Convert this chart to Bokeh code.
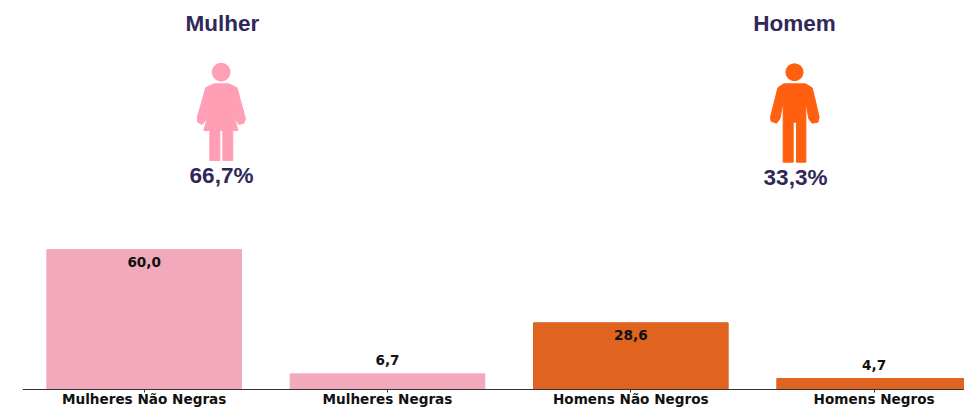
from bokeh.plotting import figure, ColumnDataSource
from bokeh.models import Range1d, FixedTicker
from bokeh.embed import file_html
from bokeh.resources import INLINE
from bokeh.core.properties import value

categories = ["Mulheres Não Negras", "Mulheres Negras", "Homens Não Negros", "Homens Negros"]
values = [60.0, 6.7, 28.6, 4.7]
bar_colors = ["#F2A9BC", "#F2A9BC", "#E06320", "#E06320"]
groups = ["Mulher", "Homem"]
shares = ["66,7%", "33,3%"]

WOMAN = [(190,250),(235,250),(260,262),(270,300),(285,355),(280,368),(265,372),(255,355),(248,335),(262,390),
         (247,390),(247,480),(217,480),(217,390),(208,390),(208,480),(178,480),(178,390),(160,390),(175,335),
         (168,355),(155,372),(142,365),(140,352),(155,300),(165,262)]
MAN = [(160,250),(225,250),(245,262),(252,290),(266,350),(262,365),(245,368),(235,355),(226,305),(226,485),
       (198,485),(198,365),(188,365),(188,485),(158,485),(158,305),(148,355),(138,368),(122,362),(120,350),
       (135,290),(142,262)]

STEP = 243.33
AXIS_X, AXIS_Y = 22, 389
PX_PER_UNIT = 140 / 60
dx = lambda px: -0.5 + (px - AXIS_X) / STEP
dy = lambda py: (AXIS_Y - py) / PX_PER_UNIT

p = figure(width=964, height=407, output_backend="svg", toolbar_location=None,
           x_range=Range1d(-0.5, dx(964)), y_range=Range1d(dy(407), dy(0)),
           min_border_left=22, min_border_right=0, min_border_top=0, min_border_bottom=0)
p.outline_line_color = None
p.grid.visible = False
p.yaxis.visible = False
p.background_fill_color = "white"

idx = list(range(len(categories)))
src = ColumnDataSource(dict(x=idx, top=values, color=bar_colors))
p.vbar(x="x", top="top", width=0.8, bottom=0, color="color", source=src)

ax = p.xaxis[0]
ax.fixed_location = 0
ax.ticker = FixedTicker(ticks=idx)
ax.major_label_overrides = dict(zip(idx, categories))
ax.axis_line_color = "#333333"
ax.axis_line_width = 1
ax.major_tick_line_color = "#333333"
ax.major_tick_in = 0
ax.major_tick_out = 3
ax.minor_tick_line_color = None
ax.major_label_standoff = -2
ax.major_label_text_font = "DejaVu Sans"
ax.major_label_text_font_style = "bold"
ax.major_label_text_font_size = "13.6px"
ax.major_label_text_color = "#111111"

# value labels: inside the tall bars, above the short ones
for i, v in zip(idx, values):
    inside = v > 20
    p.text([i], [v], text=[f"{v:.1f}".replace(".", ",")], text_align="center", text_baseline="middle",
           y_offset=12 if inside else -14, text_font=value("DejaVu Sans"), text_font_style="bold",
           text_font_size="13.6px", text_color="#111111")

INK = "#2F2858"
for name, share, tx, ty, sx, sy in zip(groups, shares, (222, 794), (23, 23), (221, 795), (175, 177)):
    p.text([dx(tx)], [dy(ty)], text=[name], text_align="center", text_baseline="middle",
           text_font=value("Liberation Sans"), text_font_style="bold", text_font_size="22.5px", text_color=INK)
    p.text([dx(sx)], [dy(sy)], text=[share], text_align="center", text_baseline="middle",
           text_font=value("Liberation Sans"), text_font_style="bold", text_font_size="22.5px", text_color=INK)

for shape, ox, color, hx, hy, hd in ((WOMAN, 150, "#FF9FB6", 212, 215, 18.6), (MAN, 730, "#FF6010", 192, 215, 18)):
    p.patch([dx(ox + a / 3) for a, _ in shape], [dy(b / 3) for _, b in shape], color=color, line_join="round")
    p.scatter([dx(ox + hx / 3)], [dy(hy / 3)], size=hd, color=color, line_width=0)

open("out.html", "w").write(file_html(p, INLINE))
